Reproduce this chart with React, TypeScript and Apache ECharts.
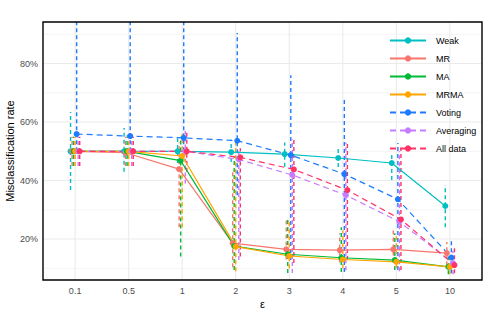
import React, { useEffect, useRef } from "react";
import * as echarts from "echarts";

const categories = ["0.1", "0.5", "1", "2", "3", "4", "5", "10"];
const seriesNames = ["Weak", "MR", "MA", "MRMA", "Voting", "Averaging", "All data"];
const colors = ["#00BFC4", "#F8766D", "#00BA38", "#FFA500", "#1E7BFF", "#C77CFF", "#FF3366"];
const dashed = [false, false, false, false, true, true, true];

const weak = [0.5, 0.5, 0.5, 0.497, 0.49, 0.477, 0.46, 0.313];
const mr = [0.5, 0.495, 0.439, 0.186, 0.165, 0.162, 0.165, 0.152];
const ma = [0.5, 0.5, 0.468, 0.176, 0.148, 0.136, 0.128, 0.105];
const mrma = [0.5, 0.5, 0.484, 0.174, 0.142, 0.13, 0.122, 0.105];
const voting = [0.559, 0.552, 0.546, 0.536, 0.487, 0.422, 0.336, 0.137];
const averaging = [0.5, 0.5, 0.5, 0.472, 0.419, 0.35, 0.259, 0.118];
const allData = [0.5, 0.5, 0.5, 0.479, 0.438, 0.367, 0.267, 0.111];

const weakLo = [0.368, 0.43, 0.46, 0.463, 0.447, 0.446, 0.402, 0.24];
const weakHi = [0.634, 0.58, 0.545, 0.54, 0.53, 0.518, 0.49, 0.385];
const mrLo = [0.45, 0.45, 0.24, 0.104, 0.13, 0.12, 0.12, 0.11];
const mrHi = [0.55, 0.55, 0.53, 0.435, 0.265, 0.22, 0.23, 0.19];
const maLo = [0.45, 0.45, 0.14, 0.094, 0.084, 0.087, 0.094, 0.08];
const maHi = [0.55, 0.55, 0.55, 0.48, 0.275, 0.24, 0.22, 0.14];
const mrmaLo = [0.45, 0.45, 0.24, 0.09, 0.1, 0.1, 0.1, 0.08];
const mrmaHi = [0.55, 0.55, 0.56, 0.53, 0.26, 0.23, 0.21, 0.13];
const votingLo = [0.5, 0.5, 0.5, 0.35, 0.128, 0.087, 0.094, 0.083];
const votingHi = [1.0, 1.0, 1.0, 0.904, 0.76, 0.68, 0.528, 0.203];
const averagingLo = [0.45, 0.45, 0.39, 0.128, 0.084, 0.093, 0.09, 0.08];
const averagingHi = [0.55, 0.55, 0.57, 0.5, 0.54, 0.53, 0.5, 0.16];
const allDataLo = [0.45, 0.45, 0.43, 0.14, 0.118, 0.128, 0.094, 0.083];
const allDataHi = [0.55, 0.55, 0.57, 0.51, 0.545, 0.53, 0.51, 0.17];

const yMajor = [0.2, 0.4, 0.6, 0.8];
const yMinor = [0.1, 0.3, 0.5, 0.7, 0.9];

const means = [weak, mr, ma, mrma, voting, averaging, allData];
const los = [weakLo, mrLo, maLo, mrmaLo, votingLo, averagingLo, allDataLo];
const his = [weakHi, mrHi, maHi, mrmaHi, votingHi, averagingHi, allDataHi];

const X_MIN = 0.4;
const X_MAX = 8.6;
const Y_MIN = 0.06;
const Y_MAX = 0.942;
const DODGE = 0.2;
const FONT = "Liberation Sans, Arial, sans-serif";

export default function App() {
  const ref = useRef<HTMLDivElement>(null);
  useEffect(() => {
    if (!ref.current) return;
    const chart = echarts.init(ref.current, null, { renderer: "svg" });
    const xpos = (i: number, j: number) => j + 1 + ((i - 3) * DODGE) / 7;

    const gridData: any[] = [];
    yMajor.forEach((v) => gridData.push([0, v, 1.1, 0]));
    yMinor.forEach((v) => gridData.push([0, v, 0.55, 0]));
    categories.forEach((_, j) => gridData.push([0, j + 1, 1.1, 1]));

    const series: any[] = [
      {
        type: "custom",
        name: "grid",
        silent: true,
        z: 0,
        data: gridData,
        renderItem: (params: any, api: any) => {
          const cs = params.coordSys;
          const v = api.value(1);
          const w = api.value(2);
          const isX = api.value(3) === 1;
          if (isX) {
            const p = api.coord([v, Y_MIN]);
            return {
              type: "line",
              shape: { x1: p[0], y1: cs.y, x2: p[0], y2: cs.y + cs.height },
              style: { stroke: "#EBEBEB", lineWidth: w },
            };
          }
          const p = api.coord([X_MIN, v]);
          return {
            type: "line",
            shape: { x1: cs.x, y1: p[1], x2: cs.x + cs.width, y2: p[1] },
            style: { stroke: "#EBEBEB", lineWidth: w },
          };
        },
      },
      {
        type: "custom",
        name: "border",
        silent: true,
        z: 10,
        data: [[0, 0]],
        renderItem: (params: any) => {
          const cs = params.coordSys;
          return {
            type: "rect",
            shape: { x: cs.x, y: cs.y, width: cs.width, height: cs.height },
            style: { fill: "none", stroke: "#000", lineWidth: 1.4 },
          };
        },
      },
    ];

    seriesNames.forEach((name, i) => {
      series.push({
        type: "custom",
        name: name + " error",
        silent: true,
        z: 2,
        data: los[i].map((lo, j) => [xpos(i, j), lo, his[i][j]]),
        encode: { x: 0, y: [1, 2] },
        renderItem: (params: any, api: any) => {
          const x = api.value(0);
          const lo = Math.max(api.value(1), Y_MIN);
          const hi = Math.min(api.value(2), Y_MAX);
          const p1 = api.coord([x, lo]);
          const p2 = api.coord([x, hi]);
          return {
            type: "line",
            shape: { x1: p1[0], y1: p1[1], x2: p2[0], y2: p2[1] },
            style: { stroke: colors[i], lineWidth: 1.4, lineDash: [4, 3] },
          };
        },
      });
    });

    seriesNames.forEach((name, i) => {
      series.push({
        type: "line",
        name,
        z: 3,
        data: means[i].map((v, j) => [xpos(i, j), v]),
        symbol: "circle",
        symbolSize: 6,
        showSymbol: true,
        color: colors[i],
        itemStyle: { color: colors[i] },
        lineStyle: {
          color: colors[i],
          width: 1.2,
          type: dashed[i] ? [6, 4] : "solid",
        },
      });
    });

    chart.setOption({
      animation: false,
      grid: {
        left: 43,
        top: 22,
        right: 6,
        bottom: 32,
        containLabel: false,
        outerBoundsMode: "none",
      },
      legend: {
        data: seriesNames,
        orient: "vertical",
        left: 389,
        top: 36,
        padding: 0,
        itemWidth: 36,
        itemHeight: 8,
        itemGap: 9,
        textStyle: {
          fontSize: 9,
          color: "#000",
          fontFamily: FONT,
          padding: [0, 0, 0, 5],
        },
      },
      xAxis: {
        type: "value",
        min: X_MIN,
        max: X_MAX,
        name: "ε",
        nameLocation: "middle",
        nameGap: 18,
        nameMoveOverlap: false,
        nameTextStyle: { fontSize: 11, color: "#000", fontFamily: FONT },
        axisLine: { show: false },
        axisTick: { show: false },
        splitLine: { show: false },
        axisLabel: {
          customValues: categories.map((_, j) => j + 1),
          formatter: (v: number) => categories[Math.round(v) - 1] ?? "",
          fontSize: 9,
          color: "#4D4D4D",
          margin: 6,
          fontFamily: FONT,
        },
      },
      yAxis: {
        type: "value",
        min: Y_MIN,
        max: Y_MAX,
        name: "Misclassification rate",
        nameLocation: "middle",
        nameGap: 28,
        nameMoveOverlap: false,
        nameTextStyle: { fontSize: 11, color: "#000", fontFamily: FONT },
        axisLine: { show: false },
        axisTick: { show: false },
        splitLine: { show: false },
        axisLabel: {
          customValues: yMajor,
          formatter: (v: number) => Math.round(v * 100) + "%",
          fontSize: 9,
          color: "#4D4D4D",
          margin: 5,
          fontFamily: FONT,
        },
      },
      series,
    });
    return () => chart.dispose();
  }, []);
  return <div ref={ref} style={{ width: 488, height: 312, position: "absolute", left: 0, top: 0 }} />;
}
